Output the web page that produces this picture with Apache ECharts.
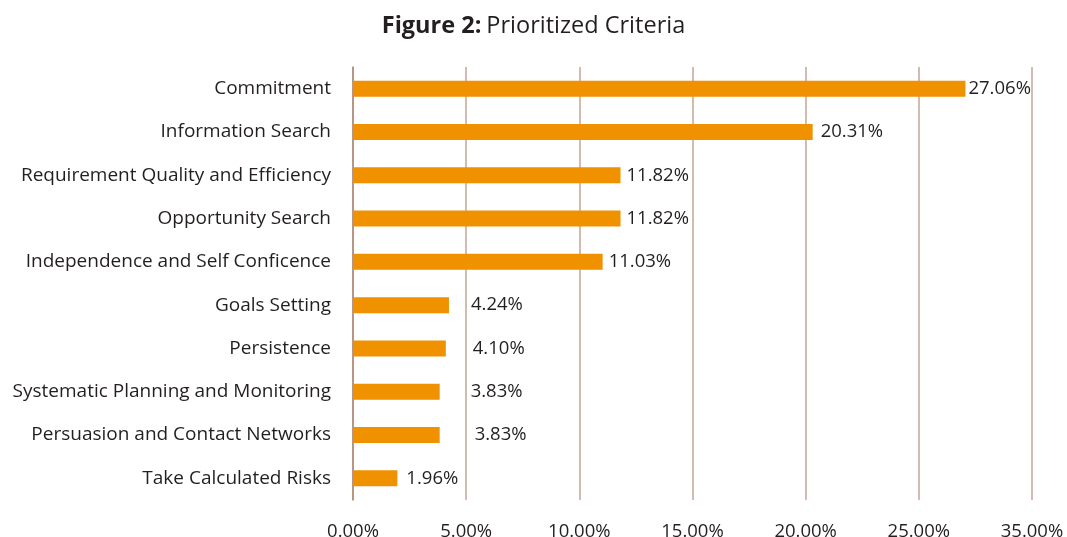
<!DOCTYPE html>
<html>
<head>
<meta charset="utf-8">
<script src="https://cdn.jsdelivr.net/npm/echarts@6/dist/echarts.min.js"></script>
<style>
  html, body { margin: 0; padding: 0; background: #fff; }
  #chart { width: 1067px; height: 537px; }
</style>
</head>
<body>
<div id="chart"></div>
<script>
// categories from top to bottom, as in the figure
const categories = [
  'Commitment',
  'Information Search',
  'Requirement Quality and Efficiency',
  'Opportunity Search',
  'Independence and Self Conficence',
  'Goals Setting',
  'Persistence',
  'Systematic Planning and Monitoring',
  'Persuasion and Contact Networks',
  'Take Calculated Risks'
];
const values = [27.06, 20.31, 11.82, 11.82, 11.03, 4.24, 4.10, 3.83, 3.83, 1.96];
// the source labels its last tick 35.00% although the scale stops at 30
const tickLabels = ['0.00%', '5.00%', '10.00%', '15.00%', '20.00%', '25.00%', '35.00%'];

// labels on the short bars sit further out in the original
const labelShift = [-1, 4, 2, 2, 2, 18, 23, 27, 31, 5];

const textColor = '#231f20';
const gridColor = '#c4a595';
const font = 'Open Sans';

const chart = echarts.init(document.getElementById('chart'));
chart.setOption({
  animation: false,
  title: {
    text: '{b|Figure 2:} {n|Prioritized Criteria}',
    left: 'center',
    top: 9,
    textStyle: {
      rich: {
        b: { fontFamily: font, fontSize: 23.5, fontWeight: 'bold', color: textColor },
        n: { fontFamily: font, fontSize: 23.5, fontWeight: 'normal', color: textColor }
      }
    }
  },
  grid: { left: 353, right: 35, top: 67, bottom: 37, outerBoundsMode: 'none', containLabel: false },
  xAxis: {
    type: 'value',
    min: 0,
    max: 30,
    interval: 5,
    axisLine: { show: false },
    axisTick: { show: false },
    splitLine: { lineStyle: { color: gridColor, width: 1.5 } },
    axisLabel: {
      margin: 22,
      fontFamily: font,
      fontSize: 18.5,
      color: textColor,
      formatter: (v) => tickLabels[Math.round(v / 5)]
    }
  },
  yAxis: {
    type: 'category',
    inverse: true,
    data: categories,
    axisLine: { lineStyle: { color: '#b08878', width: 1.5 } },
    axisTick: { show: false },
    axisLabel: {
      margin: 22,
      padding: [7, 0, 0, 0],
      fontFamily: font,
      fontSize: 19,
      color: textColor
    }
  },
  series: [{
    type: 'bar',
    barWidth: 16,
    itemStyle: { color: '#f09100' },
    data: values.map((v, i) => ({
      value: v,
      label: { offset: [labelShift[i], 0] }
    })),
    label: {
      show: true,
      position: 'right',
      distance: 4,
      padding: [7, 0, 0, 0],
      fontFamily: font,
      fontSize: 18.5,
      color: textColor,
      formatter: (p) => p.value.toFixed(2) + '%'
    }
  }]
});
</script>
</body>
</html>
